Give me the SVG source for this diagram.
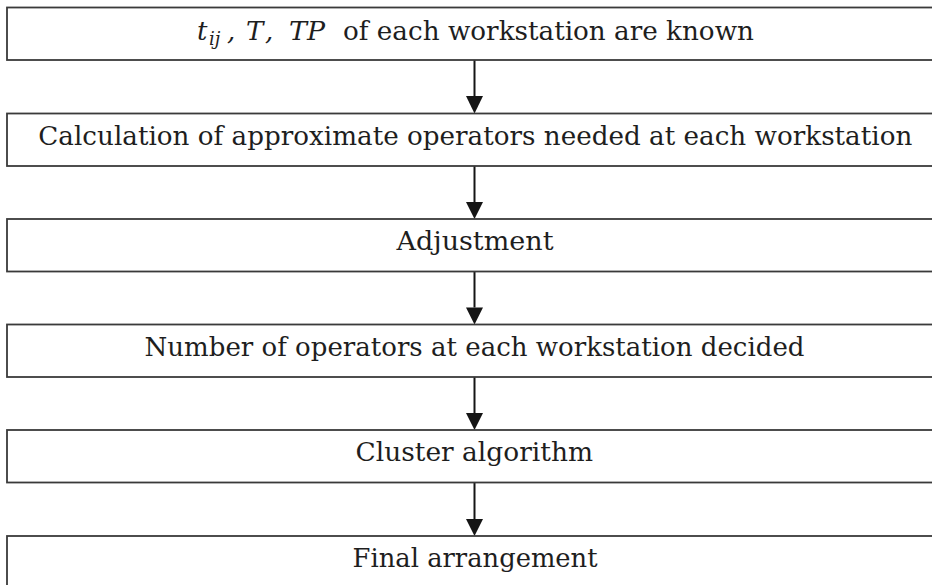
<svg xmlns="http://www.w3.org/2000/svg" width="932" height="585" viewBox="0 0 932 585">
  <style>
    .box { fill: #ffffff; stroke: #3a3a3a; stroke-width: 1.8; }
    .lbl { font-family: "DejaVu Serif", "Liberation Serif", serif; font-size: 25.5px; fill: #1e1e1e; }
    .math { font-family: "DejaVu Serif", "Liberation Serif", serif; font-style: italic; font-size: 26px; fill: #1e1e1e; }
    .link { stroke: #151515; stroke-width: 2; fill: none; }
    .head { fill: #151515; }
  </style>
  <rect width="932" height="585" fill="#ffffff"/>

  <!-- straight down arrows between consecutive steps -->
  <g id="connectors">
    <line class="link" x1="474.5" y1="60" x2="474.5" y2="96"/>
    <path class="head" d="M466,96 L483,96 L474.5,113.5 Z"/>
    <line class="link" x1="474.5" y1="165.5" x2="474.5" y2="202"/>
    <path class="head" d="M466,202 L483,202 L474.5,219 Z"/>
    <line class="link" x1="474.5" y1="271.5" x2="474.5" y2="307.5"/>
    <path class="head" d="M466,307.5 L483,307.5 L474.5,324.5 Z"/>
    <line class="link" x1="474.5" y1="377" x2="474.5" y2="413"/>
    <path class="head" d="M466,413 L483,413 L474.5,430 Z"/>
    <line class="link" x1="474.5" y1="482.5" x2="474.5" y2="519"/>
    <path class="head" d="M466,519 L483,519 L474.5,536 Z"/>
  </g>

  <g id="node-inputs">
    <rect class="box" x="7" y="7.5" width="940" height="52.5"/>
    <text class="math" y="39.5"><tspan x="197">t</tspan><tspan x="209" dy="5" font-size="18">ij</tspan><tspan x="227" dy="-5">,</tspan><tspan x="246">T</tspan><tspan x="265">,</tspan><tspan x="289" textLength="36" lengthAdjust="spacingAndGlyphs">TP</tspan></text>
    <text class="lbl" x="343" y="39.5" textLength="411" lengthAdjust="spacingAndGlyphs">of each workstation are known</text>
  </g>

  <g id="node-calculation">
    <rect class="box" x="7" y="113.5" width="940" height="52.5"/>
    <text class="lbl" x="38.3" y="144.5" textLength="874" lengthAdjust="spacingAndGlyphs">Calculation of approximate operators needed at each workstation</text>
  </g>

  <g id="node-adjustment">
    <rect class="box" x="7" y="219" width="940" height="52.5"/>
    <text class="lbl" x="396.5" y="250" textLength="157" lengthAdjust="spacingAndGlyphs">Adjustment</text>
  </g>

  <g id="node-operators">
    <rect class="box" x="7" y="324.5" width="940" height="52.5"/>
    <text class="lbl" x="144.5" y="355.5" textLength="660" lengthAdjust="spacingAndGlyphs">Number of operators at each workstation decided</text>
  </g>

  <g id="node-cluster">
    <rect class="box" x="7" y="430" width="940" height="52.5"/>
    <text class="lbl" x="355.5" y="461" textLength="237.5" lengthAdjust="spacingAndGlyphs">Cluster algorithm</text>
  </g>

  <g id="node-final">
    <rect class="box" x="7" y="536" width="940" height="60"/>
    <text class="lbl" x="352.6" y="567" textLength="245" lengthAdjust="spacingAndGlyphs">Final arrangement</text>
  </g>
</svg>
